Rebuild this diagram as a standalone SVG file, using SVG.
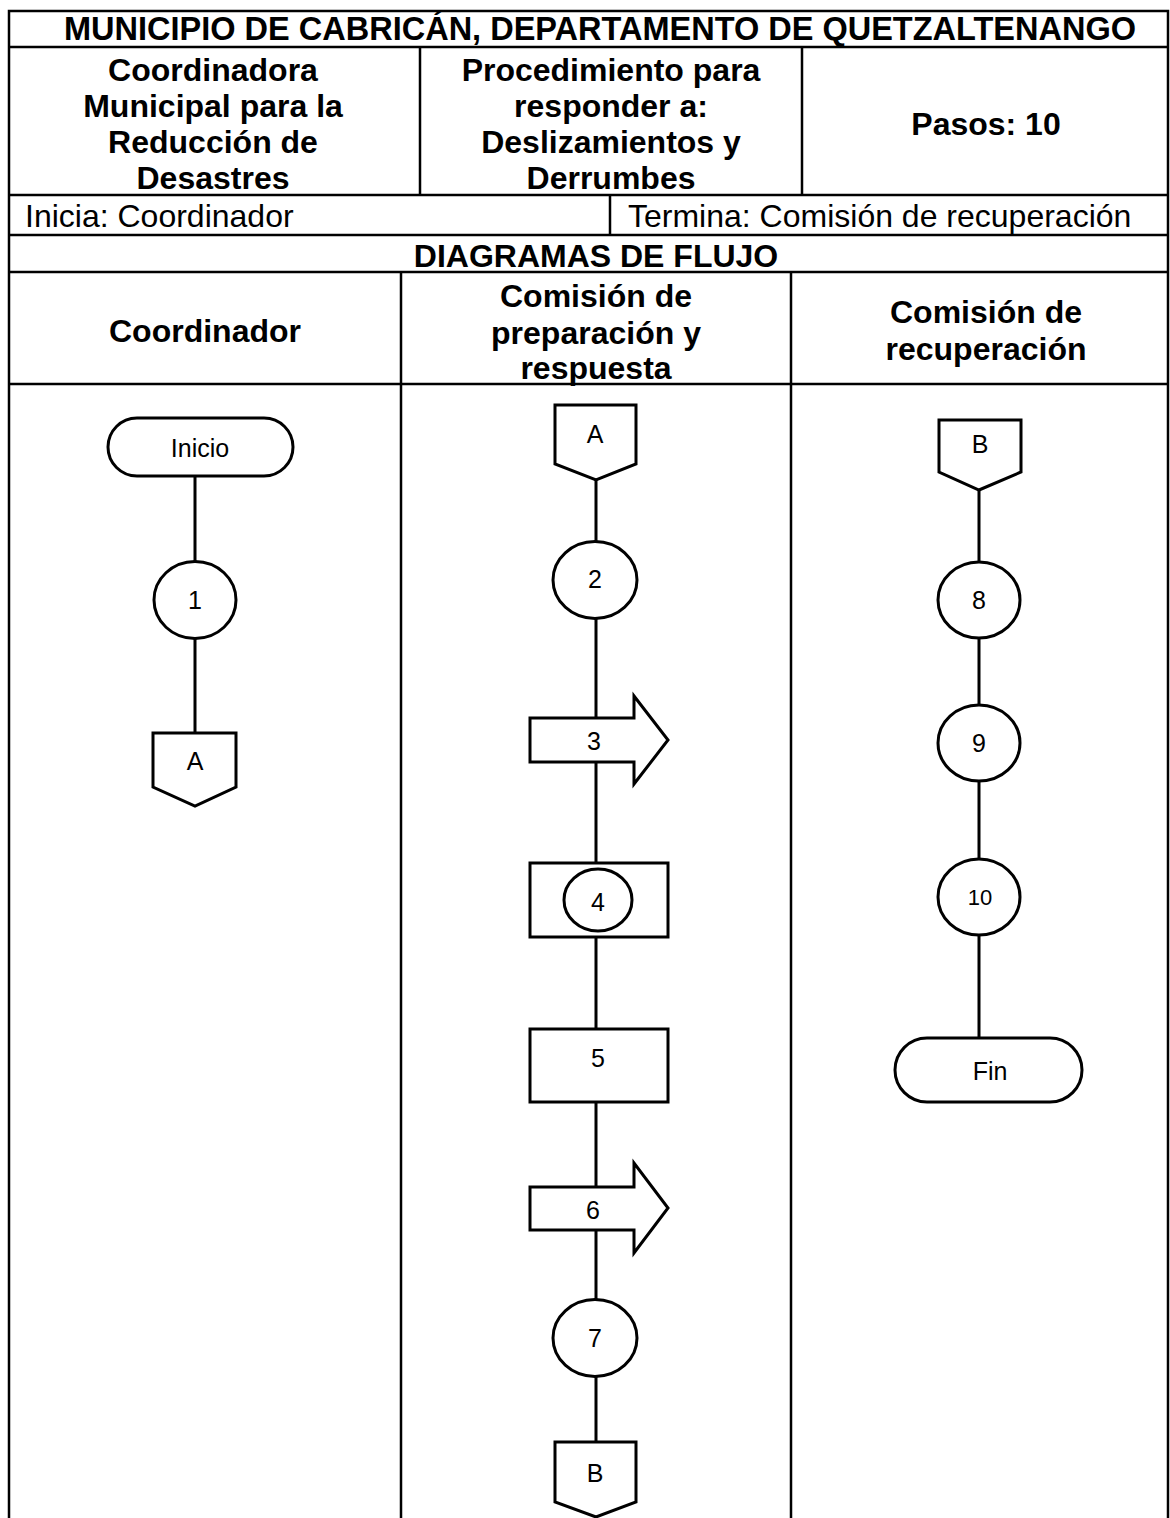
<svg xmlns="http://www.w3.org/2000/svg" width="1170" height="1518" viewBox="0 0 1170 1518">
<style>
.t{font-family:"Liberation Sans",Arial,sans-serif;font-size:32px;fill:#000}
.b{font-weight:bold}
.m{text-anchor:middle}
.s{font-family:"Liberation Sans",Arial,sans-serif;font-size:25px;fill:#000;text-anchor:middle}
.grid{stroke:#000;stroke-width:2.5;fill:none}
.sh{stroke:#000;stroke-width:3;fill:#fff}
.cn{stroke:#000;stroke-width:3;fill:none}
</style>
<rect width="1170" height="1518" fill="#fff"/>
<g id="table">
<path class="grid" d="M9,1518 V11 H1168 V1518 M9,47 H1168 M9,195 H1168 M9,235 H1168 M9,272 H1168 M9,384 H1168 M420,47 V195 M802,47 V195 M610,195 V235 M401,272 V1518 M791,272 V1518"/>
<text class="t b m" x="600" y="40" style="font-size:32.5px">MUNICIPIO DE CABRICÁN, DEPARTAMENTO DE QUETZALTENANGO</text>
<text class="t b m" x="213" y="81">Coordinadora</text>
<text class="t b m" x="213" y="117">Municipal para la</text>
<text class="t b m" x="213" y="153">Reducción de</text>
<text class="t b m" x="213" y="189">Desastres</text>
<text class="t b m" x="611" y="81">Procedimiento para</text>
<text class="t b m" x="611" y="117">responder a:</text>
<text class="t b m" x="611" y="153">Deslizamientos y</text>
<text class="t b m" x="611" y="189">Derrumbes</text>
<text class="t b m" x="986" y="135">Pasos: 10</text>
<text class="t" x="25" y="227">Inicia: Coordinador</text>
<text class="t" x="628" y="227">Termina: Comisión de recuperación</text>
<text class="t b m" x="596" y="267">DIAGRAMAS DE FLUJO</text>
<text class="t b m" x="205" y="342">Coordinador</text>
<text class="t b m" x="596" y="307">Comisión de</text>
<text class="t b m" x="596" y="344">preparación y</text>
<text class="t b m" x="596" y="379">respuesta</text>
<text class="t b m" x="986" y="323">Comisión de</text>
<text class="t b m" x="986" y="360">recuperación</text>
</g>
<g id="connectors">
<path class="cn" d="M195,476 V562 M195,639 V733"/>
<path class="cn" d="M596,479 V542 M596,619 V718 M596,762 V863 M596,937 V1029 M596,1102 V1187 M596,1230 V1300 M596,1377 V1442"/>
<path class="cn" d="M979,490 V562 M979,638 V705 M979,781 V860 M979,935 V1038"/>
</g>
<g id="inicio"><rect class="sh" x="108" y="418" width="185" height="58" rx="29"/><text class="s" x="200" y="457">Inicio</text></g>
<g id="step1"><ellipse class="sh" cx="195" cy="600" rx="41" ry="38.5"/><text class="s" x="195" y="609">1</text></g>
<g id="connA1"><path class="sh" d="M153,733 H236 V787 L195,806 L153,787 Z"/><text class="s" x="195" y="770">A</text></g>
<g id="connA2"><path class="sh" d="M555,405 H636 V464 L596,480 L555,464 Z"/><text class="s" x="595" y="443">A</text></g>
<g id="step2"><ellipse class="sh" cx="595" cy="580" rx="42" ry="38.5"/><text class="s" x="595" y="588">2</text></g>
<g id="step3"><path class="sh" d="M530,718 H634 V696 L668,740 L634,784 V762 H530 Z"/><text class="s" x="594" y="750">3</text></g>
<g id="step4"><rect class="sh" x="530" y="863" width="138" height="74"/><ellipse class="sh" cx="598" cy="900" rx="34" ry="31"/><text class="s" x="598" y="911">4</text></g>
<g id="step5"><rect class="sh" x="530" y="1029" width="138" height="73"/><text class="s" x="598" y="1067">5</text></g>
<g id="step6"><path class="sh" d="M530,1187 H634 V1163 L668,1208 L634,1253 V1230 H530 Z"/><text class="s" x="593" y="1219">6</text></g>
<g id="step7"><ellipse class="sh" cx="595" cy="1338" rx="42" ry="38.5"/><text class="s" x="595" y="1347">7</text></g>
<g id="connB1"><path class="sh" d="M555,1442 H636 V1502 L596,1517 L555,1502 Z"/><text class="s" x="595" y="1482">B</text></g>
<g id="connB2"><path class="sh" d="M939,420 H1021 V472 L979,490 L939,472 Z"/><text class="s" x="980" y="453">B</text></g>
<g id="step8"><ellipse class="sh" cx="979" cy="600" rx="41" ry="38"/><text class="s" x="979" y="609">8</text></g>
<g id="step9"><ellipse class="sh" cx="979" cy="743" rx="41" ry="38"/><text class="s" x="979" y="752">9</text></g>
<g id="step10"><ellipse class="sh" cx="979" cy="897" rx="41" ry="38"/><text class="s" x="980" y="905" style="font-size:22px">10</text></g>
<g id="fin"><rect class="sh" x="895" y="1038" width="187" height="64" rx="32"/><text class="s" x="990" y="1080">Fin</text></g>
</svg>
